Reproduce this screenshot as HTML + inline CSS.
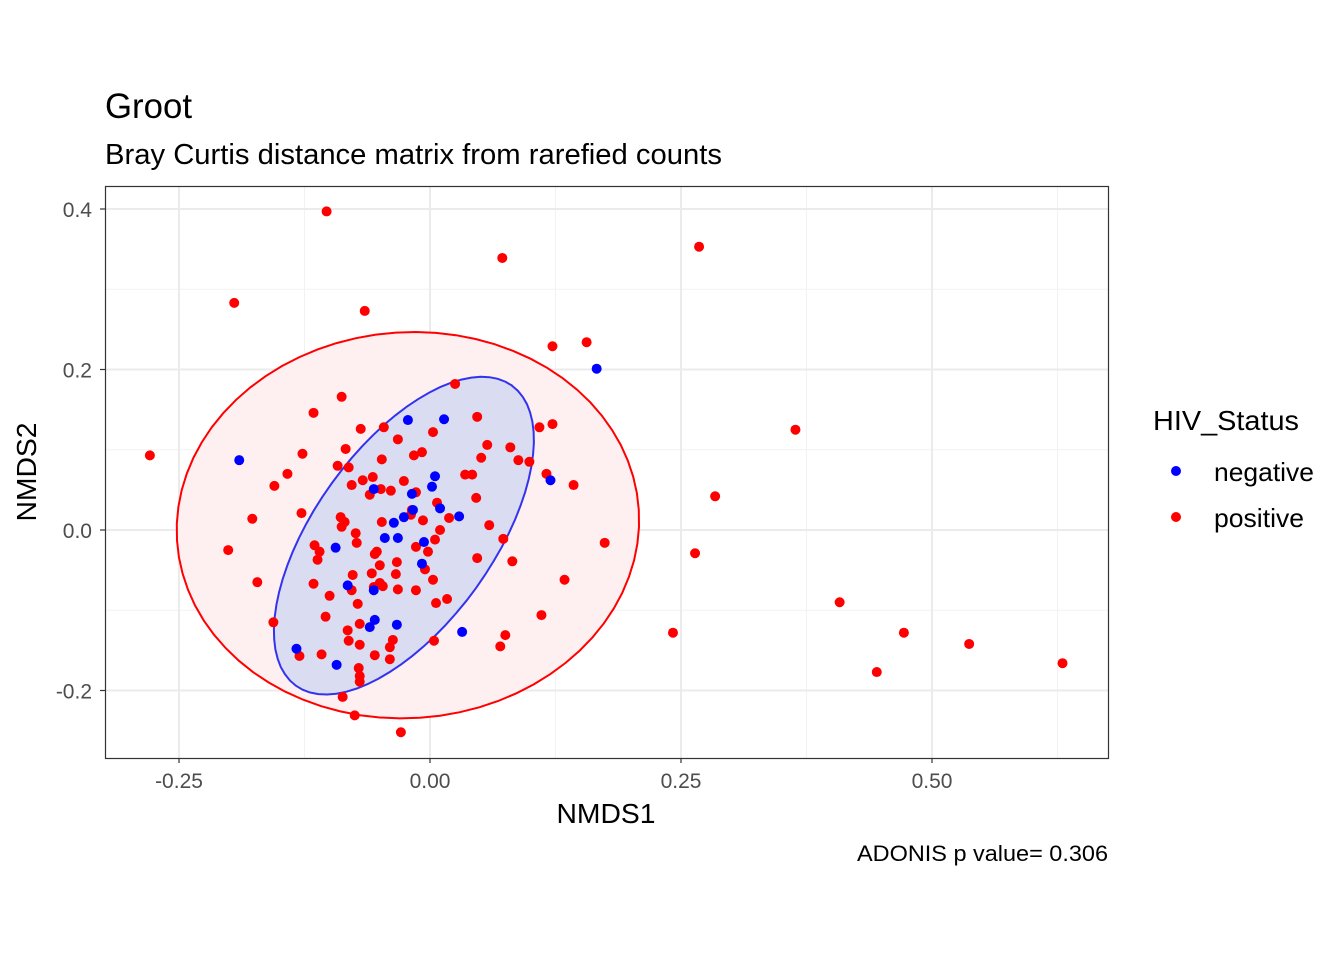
<!DOCTYPE html>
<html><head><meta charset="utf-8"><style>
body{margin:0;background:#fff;}
svg text{font-family:"Liberation Sans",sans-serif;}
</style></head><body>
<svg id="chart" width="1344" height="960" viewBox="0 0 1344 960" xmlns="http://www.w3.org/2000/svg">
<rect width="1344" height="960" fill="#fff"/>
<text x="105" y="118" font-size="35" textLength="87" lengthAdjust="spacingAndGlyphs" fill="#000">Groot</text>
<text x="105" y="164" font-size="29" textLength="617" lengthAdjust="spacingAndGlyphs" fill="#000">Bray Curtis distance matrix from rarefied counts</text>
<g id="grid"></g>
<g id="ellipses"></g>
<g id="points"></g>
<rect x="105.5" y="186.5" width="1003" height="572" fill="none" stroke="#333" stroke-width="1.2"/>
<g id="axes"></g>
<text x="606" y="823" font-size="28" textLength="99" lengthAdjust="spacingAndGlyphs" text-anchor="middle">NMDS1</text>
<text transform="translate(36,472) rotate(-90)" font-size="28" textLength="99" lengthAdjust="spacingAndGlyphs" text-anchor="middle">NMDS2</text>
<text x="1108" y="861" font-size="22" textLength="251" lengthAdjust="spacingAndGlyphs" text-anchor="end">ADONIS p value= 0.306</text>
<g>
<text x="1153" y="430" font-size="28" textLength="146" lengthAdjust="spacingAndGlyphs">HIV_Status</text>
<circle cx="1176" cy="471" r="5" fill="#0000ff"/>
<text x="1214" y="481" font-size="26" textLength="100" lengthAdjust="spacingAndGlyphs">negative</text>
<circle cx="1176" cy="517" r="5" fill="#ff0000"/>
<text x="1214" y="527" font-size="26" textLength="90" lengthAdjust="spacingAndGlyphs">positive</text>
</g>
</svg>
<script>
const xMajorTicks=[-0.25,0,0.25,0.5];
const xTickLabels=["-0.25","0.00","0.25","0.50"];
const xMinorTicks=[-0.125,0.125,0.375,0.625];
const yMajorTicks=[-0.2,0,0.2,0.4];
const yTickLabels=["-0.2","0.0","0.2","0.4"];
const yMinorTicks=[-0.1,0.1,0.3];
const negX=[-0.190,-0.022,0.014,0.166,0.120,-0.056,-0.018,0.005,0.002,0.010,0.029,-0.036,-0.026,-0.017,-0.045,-0.032,-0.006,-0.094,-0.082,-0.056,-0.008,-0.060,-0.055,-0.033,0.032,-0.133,-0.093];
const negY=[0.087,0.137,0.138,0.201,0.062,0.051,0.045,0.067,0.054,0.027,0.017,0.009,0.016,0.025,-0.010,-0.010,-0.015,-0.022,-0.069,-0.075,-0.042,-0.121,-0.112,-0.118,-0.127,-0.148,-0.168];
const posX=[-0.103,0.072,0.268,-0.195,-0.065,0.156,0.122,0.025,-0.088,0.047,-0.116,0.122,0.109,0.364,-0.046,-0.069,0.003,-0.032,0.057,-0.279,-0.127,-0.084,0.080,-0.016,-0.008,-0.048,0.051,0.088,0.099,-0.092,-0.081,-0.142,0.035,0.042,0.116,-0.057,-0.067,-0.026,-0.078,-0.155,0.143,-0.049,-0.039,-0.060,-0.014,0.007,0.046,0.284,-0.177,-0.128,-0.089,-0.085,-0.088,-0.048,-0.007,0.019,-0.019,-0.018,0.059,-0.074,0.010,-0.073,-0.115,-0.110,0.005,0.073,0.174,-0.201,-0.053,-0.014,-0.112,-0.055,-0.033,-0.002,0.264,0.047,0.082,-0.050,-0.077,-0.058,-0.034,-0.005,-0.078,-0.056,-0.047,-0.172,-0.116,-0.050,-0.032,-0.014,0.003,0.134,-0.100,0.017,0.006,-0.072,0.408,-0.104,0.111,-0.156,-0.070,-0.082,0.075,0.242,0.472,-0.081,-0.070,-0.037,0.004,0.537,-0.108,-0.130,-0.040,-0.055,-0.040,0.070,0.630,-0.071,0.445,-0.070,-0.087,-0.070,-0.075,-0.029];
const posY=[0.397,0.339,0.353,0.283,0.273,0.234,0.229,0.182,0.166,0.141,0.146,0.132,0.128,0.125,0.128,0.126,0.122,0.113,0.106,0.093,0.095,0.101,0.103,0.093,0.097,0.088,0.090,0.087,0.085,0.080,0.078,0.070,0.069,0.069,0.070,0.066,0.062,0.061,0.056,0.055,0.056,0.051,0.049,0.044,0.047,0.034,0.040,0.042,0.014,0.021,0.016,0.010,0.004,0.010,0.012,0.015,0.019,0.025,0.006,-0.004,0.000,-0.016,-0.019,-0.027,-0.012,-0.011,-0.016,-0.025,-0.027,-0.021,-0.037,-0.030,-0.040,-0.027,-0.029,-0.035,-0.039,-0.044,-0.056,-0.054,-0.055,-0.049,-0.075,-0.071,-0.070,-0.065,-0.067,-0.066,-0.074,-0.075,-0.062,-0.062,-0.082,-0.086,-0.091,-0.092,-0.090,-0.108,-0.106,-0.115,-0.117,-0.125,-0.131,-0.128,-0.128,-0.138,-0.143,-0.137,-0.138,-0.142,-0.155,-0.157,-0.146,-0.156,-0.161,-0.145,-0.166,-0.172,-0.177,-0.189,-0.208,-0.182,-0.231,-0.252];
// ellipse params: center, half-axis vectors (data units)
const redEllipse=[-0.022,0.006,0.230,0.019,0.012,-0.240];
const blueEllipse=[-0.026,-0.007,0.1076,0.187,0.072,-0.065];

const NS='http://www.w3.org/2000/svg';
const X0=105,X1=1108,Y0=186,Y1=758;
function sx(v){return 430+v*1004;}
function sy(v){return 530-v*802.5;}
function mk(tag,attrs,parent){const e=document.createElementNS(NS,tag);for(const k in attrs)e.setAttribute(k,attrs[k]);parent.appendChild(e);return e;}
const grid=document.getElementById('grid'),axes=document.getElementById('axes');
xMinorTicks.forEach(v=>{const l=mk('line',{x1:sx(v),x2:sx(v),y1:Y0,y2:Y1,stroke:'#f2f2f2','stroke-width':1},grid);

});
yMinorTicks.forEach(v=>{const l=mk('line',{x1:X0,x2:X1,y1:sy(v),y2:sy(v),stroke:'#f2f2f2','stroke-width':1},grid);

});
xMajorTicks.forEach((v,i)=>{const l=mk('line',{x1:sx(v),x2:sx(v),y1:Y0,y2:Y1,stroke:'#ebebeb','stroke-width':2},grid);


const t=mk('line',{x1:sx(v),x2:sx(v),y1:Y1,y2:Y1+5,stroke:'#333','stroke-width':1.2},axes);


const tx=mk('text',{x:sx(v),y:788,'font-size':21,fill:'#4d4d4d','text-anchor':'middle'},axes);tx.textContent=xTickLabels[i];

});
yMajorTicks.forEach((v,i)=>{const l=mk('line',{x1:X0,x2:X1,y1:sy(v),y2:sy(v),stroke:'#ebebeb','stroke-width':2},grid);


const t=mk('line',{x1:X0-5,x2:X0,y1:sy(v),y2:sy(v),stroke:'#333','stroke-width':1.2},axes);


const tx=mk('text',{x:92,y:sy(v)+8,'font-size':21,fill:'#4d4d4d','text-anchor':'end'},axes);tx.textContent=yTickLabels[i];

});
function ellPath(p){let d='';for(let i=0;i<=72;i++){const t=i/72*2*Math.PI;const x=p[0]+p[2]*Math.cos(t)+p[4]*Math.sin(t);const y=p[1]+p[3]*Math.cos(t)+p[5]*Math.sin(t);d+=(i?'L':'M')+sx(x).toFixed(1)+' '+sy(y).toFixed(1);}return d+'Z';}
const eg=document.getElementById('ellipses');
const re=mk('path',{d:ellPath(redEllipse),fill:'#fef0f1',stroke:'#ff0000','stroke-width':2},eg);


const be=mk('path',{d:ellPath(blueEllipse),fill:'#dadcf2',stroke:'#3333ee','stroke-width':2},eg);


const pg=document.getElementById('points');
posX.forEach((v,i)=>{const c=mk('circle',{cx:sx(v),cy:sy(posY[i]),r:5,fill:'#ff0000'},pg);

});
negX.forEach((v,i)=>{const c=mk('circle',{cx:sx(v),cy:sy(negY[i]),r:5,fill:'#0000ff'},pg);

});
</script>
</body></html>
